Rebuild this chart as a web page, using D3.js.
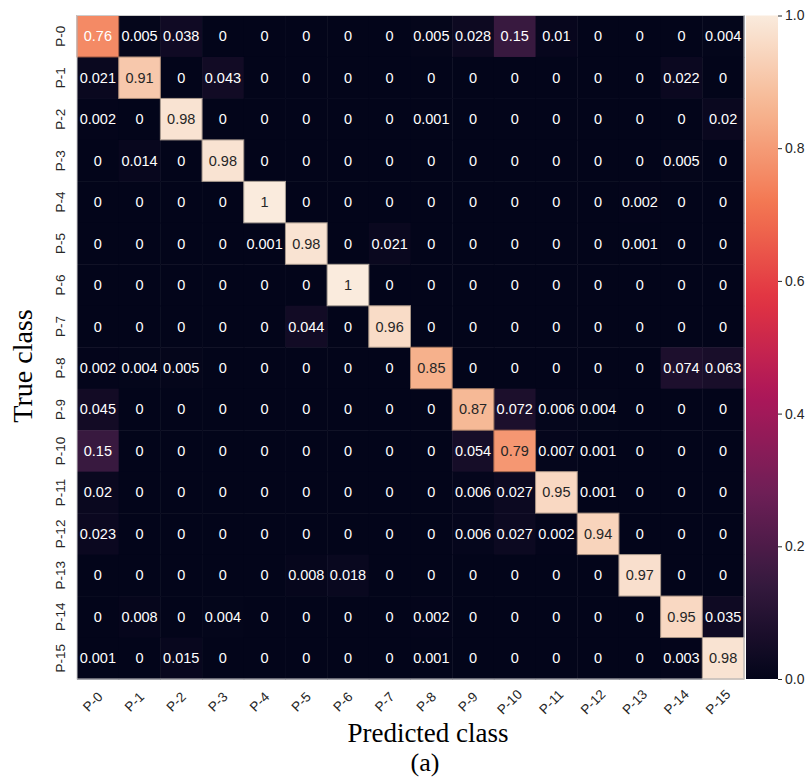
<!DOCTYPE html>
<html>
<head>
<meta charset="utf-8">
<script src="https://cdn.jsdelivr.net/npm/d3@7"></script>
<style>
  body { margin: 0; background: #fff; }
  svg { display: block; }
</style>
</head>
<body>
<svg></svg>
<script>
// Class labels (rows = true class, columns = predicted class)
var classes = ["P-0","P-1","P-2","P-3","P-4","P-5","P-6","P-7",
               "P-8","P-9","P-10","P-11","P-12","P-13","P-14","P-15"];

// Normalised confusion matrix, one row per true class
var row0  = [0.76, 0.005, 0.038, 0, 0, 0, 0, 0, 0.005, 0.028, 0.15, 0.01, 0, 0, 0, 0.004];
var row1  = [0.021, 0.91, 0, 0.043, 0, 0, 0, 0, 0, 0, 0, 0, 0, 0, 0.022, 0];
var row2  = [0.002, 0, 0.98, 0, 0, 0, 0, 0, 0.001, 0, 0, 0, 0, 0, 0, 0.02];
var row3  = [0, 0.014, 0, 0.98, 0, 0, 0, 0, 0, 0, 0, 0, 0, 0, 0.005, 0];
var row4  = [0, 0, 0, 0, 1, 0, 0, 0, 0, 0, 0, 0, 0, 0.002, 0, 0];
var row5  = [0, 0, 0, 0, 0.001, 0.98, 0, 0.021, 0, 0, 0, 0, 0, 0.001, 0, 0];
var row6  = [0, 0, 0, 0, 0, 0, 1, 0, 0, 0, 0, 0, 0, 0, 0, 0];
var row7  = [0, 0, 0, 0, 0, 0.044, 0, 0.96, 0, 0, 0, 0, 0, 0, 0, 0];
var row8  = [0.002, 0.004, 0.005, 0, 0, 0, 0, 0, 0.85, 0, 0, 0, 0, 0, 0.074, 0.063];
var row9  = [0.045, 0, 0, 0, 0, 0, 0, 0, 0, 0.87, 0.072, 0.006, 0.004, 0, 0, 0];
var row10 = [0.15, 0, 0, 0, 0, 0, 0, 0, 0, 0.054, 0.79, 0.007, 0.001, 0, 0, 0];
var row11 = [0.02, 0, 0, 0, 0, 0, 0, 0, 0, 0.006, 0.027, 0.95, 0.001, 0, 0, 0];
var row12 = [0.023, 0, 0, 0, 0, 0, 0, 0, 0, 0.006, 0.027, 0.002, 0.94, 0, 0, 0];
var row13 = [0, 0, 0, 0, 0, 0.008, 0.018, 0, 0, 0, 0, 0, 0, 0.97, 0, 0];
var row14 = [0, 0.008, 0, 0.004, 0, 0, 0, 0, 0.002, 0, 0, 0, 0, 0, 0.95, 0.035];
var row15 = [0.001, 0, 0.015, 0, 0, 0, 0, 0, 0.001, 0, 0, 0, 0, 0, 0.003, 0.98];
var matrix = [row0, row1, row2, row3, row4, row5, row6, row7,
              row8, row9, row10, row11, row12, row13, row14, row15];

// Colour bar ticks
var cbarTicks = [0, 0.2, 0.4, 0.6, 0.8, 1.0];

// seaborn "rocket" colormap, sampled stops
var rocketStops = [0, 1/7, 2/7, 3/7, 4/7, 5/7, 6/7, 1];
var rocketColors = ["#03051a", "#35193e", "#701f57", "#ad1759",
                    "#e13342", "#f37651", "#f6b48f", "#faebdd"];

var width = 809, height = 783;
var svg = d3.select("svg").attr("width", width).attr("height", height);

// heatmap box (window.top is reserved, so use hm* names)
var hmLeft = 77, hmRight = 744, hmTop = 15.5, hmBottom = 679;

var x = d3.scaleBand().domain(classes).range([hmLeft, hmRight]);
var y = d3.scaleBand().domain(classes).range([hmTop, hmBottom]);
var color = d3.scaleLinear().domain(rocketStops).range(rocketColors)
  .interpolate(d3.interpolateRgb).clamp(true);

// seaborn picks dark or white text by relative luminance of the cell
function textColor(v) {
  var c = d3.rgb(color(v));
  var lin = [c.r, c.g, c.b].map(function(u) {
    u = u / 255;
    return u <= 0.03928 ? u / 12.92 : Math.pow((u + 0.055) / 1.055, 2.4);
  });
  var lum = 0.2126 * lin[0] + 0.7152 * lin[1] + 0.0722 * lin[2];
  return lum > 0.408 ? "#262626" : "#ffffff";
}

var cells = [];
matrix.forEach(function(row, i) {
  row.forEach(function(v, j) {
    cells.push({r: classes[i], c: classes[j], v: v});
  });
});

var g = svg.append("g");

// fill first, then edges on top so light cells get their thin outline
g.selectAll("rect.cell")
  .data(cells)
  .enter()
  .append("rect")
    .attr("class", "cell")
    .attr("x", function(d) { return x(d.c); })
    .attr("y", function(d) { return y(d.r); })
    .attr("width", x.bandwidth() + 0.5)
    .attr("height", y.bandwidth() + 0.5)
    .attr("fill", function(d) { return color(d.v); });

g.selectAll("rect.edge")
  .data(cells.filter(function(d) { return d.v > 0.3; }))
  .enter()
  .append("rect")
    .attr("class", "edge")
    .attr("x", function(d) { return x(d.c); })
    .attr("y", function(d) { return y(d.r); })
    .attr("width", x.bandwidth())
    .attr("height", y.bandwidth())
    .attr("fill", "none")
    .attr("stroke", function(d) { return d3.rgb(color(d.v)).darker(1.1); })
    .attr("stroke-width", 1);

g.selectAll("text.val")
  .data(cells)
  .enter()
  .append("text")
    .attr("class", "val")
    .attr("x", function(d) { return x(d.c) + x.bandwidth() / 2; })
    .attr("y", function(d) { return y(d.r) + y.bandwidth() / 2; })
    .attr("text-anchor", "middle")
    .attr("dominant-baseline", "central")
    .attr("font-family", "Liberation Sans, Arial, sans-serif")
    .attr("font-size", 14.5)
    .attr("fill", function(d) { return textColor(d.v); })
    .text(function(d) { return d3.format("")(d.v); });

// outer frame
g.append("rect")
  .attr("x", hmLeft).attr("y", hmTop)
  .attr("width", hmRight - hmLeft).attr("height", hmBottom - hmTop)
  .attr("fill", "none")
  .attr("stroke", "#cccccc")
  .attr("stroke-width", 1);

// y tick labels (rotated)
svg.selectAll("text.ylab")
  .data(classes)
  .enter()
  .append("text")
    .attr("class", "ylab")
    .attr("transform", function(d) {
      return "translate(60," + (y(d) + y.bandwidth() / 2) + ") rotate(-90)";
    })
    .attr("text-anchor", "middle")
    .attr("dominant-baseline", "central")
    .attr("font-family", "Liberation Sans, Arial, sans-serif")
    .attr("font-size", 13.5)
    .attr("fill", "#262626")
    .text(function(d) { return d; });

// x tick labels (rotated 45 degrees)
svg.selectAll("text.xlab")
  .data(classes)
  .enter()
  .append("text")
    .attr("class", "xlab")
    .attr("transform", function(d) {
      return "translate(" + (x(d) + x.bandwidth() / 2 - 5) + ",702) rotate(-45)";
    })
    .attr("text-anchor", "middle")
    .attr("dominant-baseline", "central")
    .attr("font-family", "Liberation Sans, Arial, sans-serif")
    .attr("font-size", 13.5)
    .attr("fill", "#262626")
    .text(function(d) { return d; });

// axis titles
svg.append("text")
  .attr("x", 428).attr("y", 742)
  .attr("text-anchor", "middle")
  .attr("font-family", "Liberation Serif, Times New Roman, serif")
  .attr("font-size", 27)
  .attr("fill", "#000")
  .text("Predicted class");

svg.append("text")
  .attr("transform", "translate(32,366) rotate(-90)")
  .attr("text-anchor", "middle")
  .attr("font-family", "Liberation Serif, Times New Roman, serif")
  .attr("font-size", 28)
  .attr("fill", "#000")
  .text("True class");

svg.append("text")
  .attr("x", 425).attr("y", 771)
  .attr("text-anchor", "middle")
  .attr("font-family", "Liberation Serif, Times New Roman, serif")
  .attr("font-size", 26)
  .attr("fill", "#000")
  .text("(a)");

// colour bar
var cbLeft = 746, cbRight = 778;
var cbScale = d3.scaleLinear().domain([0, 1]).range([hmBottom, hmTop]);

var defs = svg.append("defs");
var grad = defs.append("linearGradient")
  .attr("id", "rocket")
  .attr("x1", 0).attr("y1", 1).attr("x2", 0).attr("y2", 0);
grad.selectAll("stop")
  .data(d3.range(0, 1.0001, 0.02))
  .enter()
  .append("stop")
    .attr("offset", function(d) { return d; })
    .attr("stop-color", function(d) { return color(d); });

svg.append("rect")
  .attr("x", cbLeft).attr("y", hmTop)
  .attr("width", cbRight - cbLeft).attr("height", hmBottom - hmTop)
  .attr("fill", "url(#rocket)");

var cbAxis = d3.axisRight(cbScale)
  .tickValues(cbarTicks)
  .tickFormat(d3.format(".1f"))
  .tickSize(4)
  .tickPadding(3);

var cbG = svg.append("g")
  .attr("transform", "translate(" + cbRight + ",0)")
  .call(cbAxis);
cbG.select(".domain").remove();
cbG.selectAll(".tick line").attr("stroke", "#262626");
cbG.selectAll(".tick text")
  .attr("font-family", "Liberation Sans, Arial, sans-serif")
  .attr("font-size", 14)
  .attr("fill", "#262626");
</script>
</body>
</html>
